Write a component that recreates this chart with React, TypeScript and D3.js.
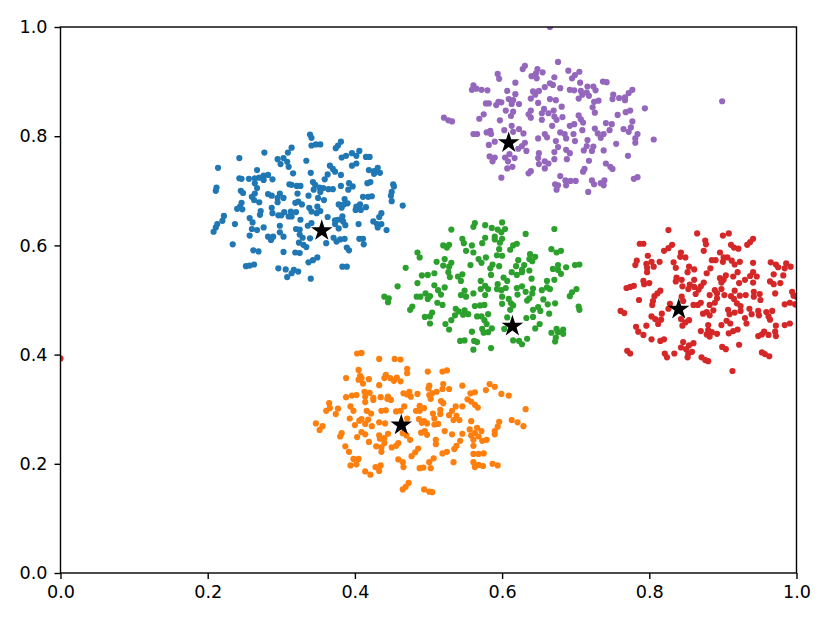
import React, { useEffect, useRef } from "react";
import * as d3 from "d3";

type Pt = [number, number];

const W = 830;
const H = 623;
const M = { left: 60.5, right: 796.5, top: 27, bottom: 573 };

const tickValues = [0, 0.2, 0.4, 0.6, 0.8, 1.0];
const centerX = [0.355, 0.463, 0.614, 0.84, 0.609];
const centerY = [0.627, 0.271, 0.452, 0.483, 0.788];
const colors = ["#1f77b4", "#ff7f0e", "#2ca02c", "#d62728", "#9467bd"];

const bluePts: Pt[] = [[.339,.803],[.341,.797],[.341,.783],[.347,.785],[.353,.785],[.381,.790],[.377,.783],[.374,.778],[.314,.779],[.309,.770],[.277,.770],[.406,.773],[.396,.769],[.402,.764],[.388,.764],[.382,.761],[.415,.762],[.420,.762],[.243,.760],[.295,.758],[.303,.760],[.308,.753],[.299,.749],[.310,.744],[.334,.755],[.402,.750],[.396,.746],[.214,.742],[.267,.738],[.366,.746],[.370,.740],[.373,.735],[.363,.730],[.316,.732],[.340,.733],[.381,.729],[.359,.721],[.419,.738],[.426,.736],[.431,.742],[.434,.733],[.426,.731],[.243,.723],[.246,.722],[.256,.722],[.264,.723],[.270,.724],[.276,.728],[.282,.729],[.276,.720],[.288,.721],[.264,.714],[.343,.716],[.346,.711],[.421,.716],[.417,.714],[.452,.712],[.453,.708],[.212,.706],[.211,.700],[.311,.712],[.314,.711],[.321,.709],[.326,.709],[.381,.709],[.392,.714],[.397,.708],[.391,.702],[.267,.705],[.245,.700],[.248,.696],[.344,.702],[.352,.706],[.357,.705],[.353,.698],[.364,.703],[.370,.703],[.322,.695],[.450,.698],[.449,.691],[.450,.681],[.264,.695],[.260,.689],[.263,.683],[.282,.694],[.287,.691],[.298,.695],[.295,.687],[.295,.679],[.303,.687],[.337,.691],[.350,.687],[.358,.683],[.411,.689],[.418,.689],[.423,.690],[.386,.685],[.465,.673],[.270,.679],[.246,.678],[.240,.667],[.247,.666],[.244,.671],[.323,.680],[.319,.678],[.328,.675],[.378,.675],[.382,.669],[.385,.675],[.390,.677],[.407,.675],[.402,.671],[.401,.665],[.408,.665],[.415,.670],[.338,.669],[.349,.671],[.341,.662],[.348,.659],[.353,.663],[.287,.669],[.288,.659],[.272,.663],[.271,.656],[.296,.655],[.300,.655],[.304,.661],[.313,.662],[.310,.653],[.314,.653],[.320,.661],[.436,.659],[.433,.652],[.363,.652],[.383,.653],[.222,.654],[.220,.645],[.326,.647],[.373,.646],[.377,.647],[.373,.639],[.384,.644],[.387,.637],[.378,.631],[.257,.650],[.261,.642],[.237,.639],[.213,.639],[.211,.633],[.208,.625],[.425,.644],[.430,.639],[.436,.639],[.431,.633],[.443,.628],[.405,.639],[.276,.633],[.298,.636],[.336,.636],[.341,.641],[.260,.630],[.267,.628],[.320,.630],[.325,.629],[.298,.624],[.303,.616],[.257,.618],[.282,.616],[.289,.616],[.286,.610],[.325,.620],[.329,.614],[.339,.613],[.371,.614],[.375,.607],[.380,.611],[.386,.612],[.406,.612],[.411,.612],[.412,.602],[.361,.604],[.234,.602],[.324,.605],[.330,.601],[.334,.597],[.389,.596],[.392,.591],[.262,.591],[.269,.589],[.303,.588],[.319,.587],[.325,.586],[.349,.578],[.343,.573],[.337,.569],[.252,.562],[.257,.563],[.263,.565],[.296,.558],[.306,.556],[.317,.555],[.323,.552],[.314,.549],[.308,.542],[.340,.539],[.383,.561],[.389,.561]];

const orangePts: Pt[] = [[.403,.402],[.409,.403],[.433,.392],[.454,.392],[.462,.391],[.405,.372],[.471,.374],[.471,.366],[.499,.369],[.519,.369],[.525,.371],[.388,.357],[.407,.361],[.405,.354],[.411,.347],[.409,.357],[.419,.355],[.442,.363],[.440,.357],[.448,.357],[.453,.352],[.457,.358],[.462,.351],[.433,.344],[.501,.343],[.500,.338],[.520,.346],[.519,.337],[.528,.337],[.511,.332],[.505,.329],[.501,.326],[.503,.319],[.546,.343],[.583,.346],[.578,.335],[.590,.341],[.557,.329],[.563,.331],[.485,.328],[.413,.332],[.420,.330],[.414,.323],[.388,.322],[.396,.325],[.402,.326],[.425,.321],[.425,.317],[.414,.313],[.435,.322],[.445,.323],[.444,.319],[.449,.317],[.466,.329],[.474,.332],[.471,.327],[.476,.323],[.599,.328],[.609,.325],[.517,.315],[.520,.311],[.553,.318],[.558,.314],[.563,.308],[.567,.303],[.537,.305],[.546,.305],[.632,.300],[.365,.311],[.366,.302],[.361,.297],[.377,.301],[.374,.291],[.394,.305],[.398,.297],[.416,.297],[.422,.292],[.436,.297],[.442,.298],[.467,.305],[.462,.297],[.456,.296],[.488,.306],[.494,.302],[.488,.297],[.483,.297],[.516,.299],[.516,.291],[.506,.292],[.508,.283],[.532,.297],[.528,.289],[.538,.288],[.534,.280],[.542,.280],[.393,.283],[.409,.282],[.418,.281],[.414,.273],[.406,.279],[.400,.271],[.423,.269],[.433,.276],[.441,.274],[.471,.283],[.487,.282],[.491,.275],[.498,.274],[.494,.278],[.508,.272],[.513,.273],[.558,.278],[.613,.280],[.621,.276],[.629,.269],[.596,.277],[.594,.268],[.590,.260],[.590,.254],[.347,.274],[.356,.269],[.352,.262],[.556,.263],[.566,.266],[.572,.260],[.563,.256],[.568,.250],[.558,.252],[.546,.255],[.522,.260],[.532,.254],[.490,.257],[.495,.260],[.498,.253],[.445,.255],[.465,.256],[.470,.252],[.475,.244],[.382,.256],[.380,.250],[.409,.258],[.414,.254],[.403,.249],[.433,.252],[.434,.246],[.440,.247],[.419,.240],[.573,.242],[.579,.244],[.561,.244],[.561,.233],[.510,.244],[.510,.236],[.543,.242],[.538,.233],[.535,.227],[.459,.238],[.456,.233],[.450,.230],[.440,.238],[.429,.232],[.436,.230],[.436,.222],[.387,.232],[.392,.222],[.486,.228],[.482,.221],[.477,.214],[.525,.222],[.519,.219],[.561,.218],[.568,.218],[.575,.219],[.398,.209],[.405,.209],[.402,.199],[.394,.197],[.459,.208],[.465,.203],[.466,.194],[.507,.210],[.501,.203],[.503,.192],[.488,.192],[.493,.193],[.534,.203],[.561,.203],[.568,.198],[.574,.196],[.563,.194],[.587,.200],[.594,.197],[.435,.197],[.428,.194],[.433,.187],[.414,.186],[.421,.180],[.473,.165],[.469,.158],[.465,.153],[.494,.153],[.501,.149],[.505,.148]];

const greenPts: Pt[] = [[.600,.642],[.563,.641],[.561,.634],[.577,.637],[.586,.632],[.531,.629],[.594,.629],[.604,.630],[.599,.624],[.671,.630],[.632,.621],[.546,.612],[.548,.604],[.577,.614],[.573,.604],[.590,.616],[.590,.611],[.600,.612],[.597,.605],[.620,.603],[.615,.600],[.611,.592],[.520,.600],[.528,.601],[.525,.596],[.559,.600],[.551,.590],[.561,.587],[.596,.593],[.593,.582],[.600,.581],[.667,.593],[.674,.587],[.680,.590],[.485,.587],[.488,.578],[.638,.584],[.645,.579],[.637,.575],[.641,.571],[.568,.575],[.572,.568],[.578,.578],[.622,.573],[.511,.570],[.522,.575],[.531,.568],[.520,.563],[.528,.561],[.557,.564],[.587,.565],[.584,.558],[.596,.562],[.619,.562],[.630,.564],[.627,.555],[.637,.554],[.676,.564],[.676,.555],[.680,.548],[.687,.560],[.669,.557],[.699,.564],[.705,.565],[.469,.559],[.613,.551],[.620,.546],[.627,.551],[.585,.546],[.527,.551],[.529,.542],[.546,.547],[.540,.543],[.544,.535],[.491,.545],[.499,.546],[.508,.549],[.485,.531],[.602,.541],[.607,.535],[.640,.539],[.671,.537],[.661,.535],[.665,.520],[.458,.525],[.508,.527],[.522,.523],[.513,.518],[.517,.510],[.571,.535],[.577,.526],[.571,.520],[.581,.520],[.577,.509],[.594,.529],[.593,.520],[.599,.518],[.605,.522],[.620,.522],[.627,.525],[.632,.515],[.621,.510],[.642,.521],[.641,.512],[.654,.518],[.661,.523],[.701,.520],[.695,.514],[.692,.507],[.484,.506],[.489,.506],[.496,.512],[.499,.502],[.502,.507],[.549,.517],[.544,.509],[.551,.506],[.561,.512],[.600,.506],[.440,.506],[.446,.503],[.445,.496],[.637,.503],[.634,.499],[.656,.501],[.609,.502],[.612,.494],[.600,.493],[.662,.492],[.672,.494],[.615,.490],[.611,.482],[.512,.495],[.519,.491],[.478,.488],[.475,.482],[.563,.489],[.570,.490],[.576,.491],[.649,.487],[.642,.482],[.652,.480],[.704,.488],[.705,.482],[.537,.484],[.541,.479],[.549,.481],[.547,.473],[.554,.474],[.664,.475],[.505,.477],[.502,.470],[.495,.469],[.502,.457],[.536,.472],[.531,.463],[.523,.456],[.528,.446],[.566,.470],[.572,.470],[.576,.463],[.581,.474],[.607,.468],[.633,.467],[.642,.469],[.651,.456],[.645,.448],[.579,.456],[.573,.447],[.586,.448],[.575,.440],[.581,.441],[.603,.447],[.559,.442],[.674,.447],[.683,.446],[.667,.440],[.676,.441],[.683,.438],[.673,.431],[.672,.424],[.615,.426],[.623,.425],[.627,.419],[.634,.429],[.543,.425],[.549,.426],[.562,.425],[.566,.423],[.561,.409],[.585,.412]];

const redPts: Pt[] = [[0,.393],[1,.506],[.999,.492],[.826,.628],[.865,.622],[.900,.618],[.908,.622],[.787,.603],[.792,.603],[.876,.609],[.877,.602],[.941,.612],[.937,.606],[.933,.601],[.911,.601],[.915,.596],[.921,.594],[.831,.601],[.826,.595],[.820,.590],[.874,.590],[.896,.587],[.843,.587],[.842,.579],[.849,.578],[.798,.581],[.901,.578],[.906,.578],[.885,.573],[.890,.573],[.900,.570],[.912,.572],[.916,.565],[.923,.570],[.941,.568],[.783,.572],[.781,.564],[.796,.566],[.803,.570],[.806,.561],[.797,.559],[.797,.551],[.814,.570],[.833,.569],[.836,.559],[.854,.561],[.861,.556],[.852,.551],[.965,.569],[.972,.565],[.975,.560],[.986,.567],[.984,.558],[.992,.561],[.883,.558],[.878,.549],[.920,.551],[.941,.551],[.969,.547],[.982,.545],[.937,.544],[.930,.537],[.946,.543],[.941,.532],[.914,.543],[.904,.545],[.901,.537],[.896,.540],[.898,.532],[.922,.531],[.837,.541],[.836,.534],[.844,.537],[.861,.537],[.964,.534],[.969,.529],[.978,.531],[.792,.535],[.793,.529],[.800,.531],[.845,.525],[.855,.528],[.853,.520],[.861,.524],[.874,.532],[.870,.525],[.867,.519],[.863,.511],[.769,.522],[.774,.524],[.779,.526],[.815,.517],[.811,.512],[.807,.507],[.889,.518],[.898,.520],[.892,.512],[.882,.509],[.971,.512],[.916,.517],[.902,.509],[.911,.507],[.923,.508],[.931,.509],[.942,.515],[.950,.511],[.942,.506],[.951,.500],[.994,.515],[.996,.508],[.892,.503],[.889,.495],[.915,.502],[.919,.494],[.844,.506],[.846,.498],[.786,.500],[.805,.498],[.804,.491],[.828,.493],[.826,.484],[.991,.495],[.984,.492],[.998,.492],[.870,.495],[.866,.491],[.860,.491],[.882,.491],[.924,.489],[.924,.480],[.907,.482],[.909,.474],[.916,.477],[.936,.484],[.948,.480],[.959,.478],[.967,.480],[.939,.474],[.949,.472],[.962,.470],[.964,.464],[.761,.480],[.766,.476],[.878,.478],[.873,.475],[.887,.481],[.882,.472],[.817,.475],[.803,.470],[.808,.465],[.816,.464],[.812,.456],[.843,.465],[.854,.463],[.849,.459],[.845,.453],[.930,.467],[.932,.457],[.905,.462],[.898,.454],[.910,.457],[.880,.454],[.972,.453],[.984,.454],[.991,.457],[.796,.453],[.782,.451],[.785,.442],[.792,.436],[.870,.443],[.880,.445],[.885,.441],[.892,.438],[.882,.433],[.878,.437],[.920,.446],[.914,.443],[.908,.439],[.956,.442],[.953,.437],[.948,.434],[.962,.436],[.971,.442],[.972,.434],[.803,.428],[.815,.425],[.820,.428],[.846,.423],[.860,.421],[.854,.417],[.843,.413],[.850,.410],[.922,.418],[.899,.414],[.904,.410],[.770,.407],[.774,.402],[.821,.402],[.824,.395],[.834,.402],[.858,.405],[.853,.402],[.852,.395],[.871,.395],[.876,.390],[.880,.388],[.953,.404],[.957,.401],[.963,.397],[.913,.370]];

const purplePts: Pt[] = [[.665,1.0],[.899,.864],[.676,.936],[.631,.929],[.628,.923],[.648,.923],[.655,.917],[.646,.915],[.640,.910],[.647,.906],[.690,.920],[.705,.918],[.699,.912],[.695,.906],[.594,.914],[.596,.905],[.618,.898],[.671,.908],[.665,.897],[.658,.890],[.669,.894],[.706,.898],[.737,.900],[.742,.899],[.561,.893],[.559,.885],[.565,.887],[.572,.885],[.580,.884],[.607,.883],[.618,.877],[.650,.883],[.642,.882],[.645,.876],[.639,.869],[.679,.888],[.692,.885],[.698,.884],[.716,.891],[.724,.891],[.727,.884],[.707,.883],[.715,.880],[.709,.876],[.704,.869],[.718,.874],[.777,.885],[.772,.879],[.767,.871],[.759,.870],[.751,.876],[.750,.868],[.767,.866],[.609,.868],[.615,.866],[.623,.859],[.613,.859],[.595,.863],[.599,.862],[.592,.857],[.578,.860],[.582,.860],[.649,.861],[.665,.868],[.673,.866],[.681,.854],[.731,.865],[.725,.863],[.723,.853],[.726,.843],[.605,.847],[.615,.845],[.612,.837],[.639,.847],[.636,.840],[.639,.834],[.657,.850],[.654,.842],[.670,.847],[.663,.842],[.671,.836],[.674,.830],[.682,.835],[.654,.830],[.668,.819],[.794,.851],[.774,.847],[.768,.844],[.757,.839],[.575,.840],[.569,.832],[.521,.834],[.527,.829],[.532,.827],[.597,.829],[.704,.838],[.707,.831],[.710,.825],[.698,.822],[.692,.819],[.741,.824],[.749,.822],[.777,.827],[.746,.811],[.709,.811],[.726,.814],[.730,.805],[.738,.804],[.734,.797],[.765,.813],[.775,.816],[.772,.808],[.613,.819],[.615,.808],[.603,.811],[.623,.813],[.629,.805],[.584,.810],[.579,.807],[.585,.804],[.561,.804],[.566,.804],[.679,.807],[.685,.804],[.697,.804],[.687,.796],[.658,.804],[.661,.798],[.649,.796],[.699,.791],[.784,.804],[.781,.796],[.781,.788],[.806,.794],[.673,.791],[.716,.793],[.755,.786],[.590,.790],[.582,.784],[.631,.788],[.627,.782],[.622,.777],[.633,.773],[.676,.780],[.671,.771],[.715,.782],[.724,.781],[.711,.774],[.722,.773],[.738,.774],[.687,.775],[.692,.769],[.688,.758],[.650,.769],[.649,.760],[.671,.758],[.610,.767],[.604,.761],[.617,.760],[.583,.763],[.590,.761],[.587,.754],[.608,.754],[.607,.741],[.614,.744],[.650,.749],[.658,.754],[.663,.750],[.658,.741],[.771,.764],[.718,.755],[.741,.750],[.747,.744],[.750,.740],[.712,.740],[.710,.735],[.639,.736],[.636,.732],[.599,.724],[.679,.727],[.672,.712],[.676,.710],[.674,.702],[.686,.719],[.687,.710],[.693,.718],[.700,.718],[.722,.719],[.725,.712],[.739,.719],[.734,.714],[.738,.710],[.779,.722],[.784,.725],[.717,.698]];

const clusters = [bluePts, orangePts, greenPts, redPts, purplePts];

export default function App() {
  const ref = useRef<SVGSVGElement>(null);

  useEffect(() => {
    const svg = d3.select(ref.current);
    svg.selectAll("*").remove();

    const x = d3.scaleLinear().domain([0, 1]).range([M.left, M.right]);
    const y = d3.scaleLinear().domain([0, 1]).range([M.bottom, M.top]);

    svg
      .append("clipPath")
      .attr("id", "plot-clip")
      .append("rect")
      .attr("x", M.left)
      .attr("y", M.top)
      .attr("width", M.right - M.left)
      .attr("height", M.bottom - M.top);

    const plot = svg.append("g").attr("clip-path", "url(#plot-clip)");
    clusters.forEach((pts, i) => {
      plot
        .append("g")
        .selectAll("circle")
        .data(pts)
        .join("circle")
        .attr("cx", (d) => x(d[0]))
        .attr("cy", (d) => y(d[1]))
        .attr("r", 3.1)
        .attr("fill", colors[i]);
    });

    // centres on top of every cluster
    const star = d3.symbol().type(d3.symbolStar).size(145);
    plot
      .append("g")
      .selectAll("path")
      .data(centerX)
      .join("path")
      .attr("d", star() as string)
      .attr("transform", (d, i) => `translate(${x(d)},${y(centerY[i])})`)
      .attr("fill", "black");

    const fmt = d3.format(".1f");
    const xAxis = d3.axisBottom(x).tickValues(tickValues).tickFormat((d) => fmt(d as number)).tickSize(6).tickSizeOuter(0).tickPadding(7);
    const yAxis = d3.axisLeft(y).tickValues(tickValues).tickFormat((d) => fmt(d as number)).tickSize(6).tickSizeOuter(0).tickPadding(7);

    const gx = svg.append("g").attr("transform", `translate(0,${M.bottom})`).call(xAxis);
    const gy = svg.append("g").attr("transform", `translate(${M.left},0)`).call(yAxis);
    [gx, gy].forEach((g) => {
      g.select(".domain").remove();
      g.selectAll("line").attr("stroke", "black").attr("stroke-width", 1.4);
      g.selectAll("text")
        .attr("fill", "black")
        .style("font-family", "'DejaVu Sans'")
        .style("font-size", "17.6px");
    });

    svg
      .append("rect")
      .attr("x", M.left)
      .attr("y", M.top)
      .attr("width", M.right - M.left)
      .attr("height", M.bottom - M.top)
      .attr("fill", "none")
      .attr("stroke", "black")
      .attr("stroke-width", 1.4);
  }, []);

  return <svg ref={ref} width={W} height={H} style={{ position: "absolute", left: 0, top: 0, background: "white" }} />;
}
